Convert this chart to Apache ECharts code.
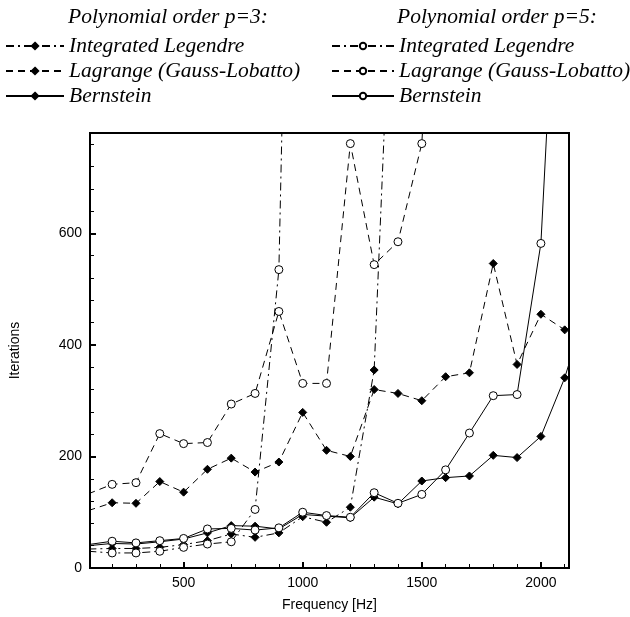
<!DOCTYPE html>
<html>
<head>
<meta charset="utf-8">
<script src="https://cdn.jsdelivr.net/npm/echarts@6/dist/echarts.min.js"></script>
<style>
html,body{margin:0;padding:0;background:#fff;}
#c{width:630px;height:617px;}
</style>
</head>
<body>
<div id="c"></div>
<script>
// ---- data ----
var freq = [100,200,300,400,500,600,700,800,900,1000,1100,1200,1300,1400,1500,1600,1700,1800,1900,2000,2100,2200];
var legendreP3  = [34,35,35,37,42,49,61,55,63,92,82,109,355,1370,null,null,null,null,null,null,null,null];
var lagrangeP3  = [103,117,116,155,136,177,197,172,190,279,211,200,320,313,300,343,350,546,365,455,427,445];
var bernsteinP3 = [40,44,43,47,52,63,76,75,70,96,93,90,127,115,156,162,165,202,198,236,341,480];
var legendreP5  = [30,27,27,30,37,43,47,105,535,2500,null,null,null,null,null,null,null,null,null,null,null,null];
var lagrangeP5  = [133,150,153,241,223,225,294,313,460,331,331,761,544,585,761,1500,null,null,null,null,null,null];
var bernsteinP5 = [42,48,45,49,53,70,71,68,72,100,94,91,135,116,132,176,242,309,311,582,1400,null];

var xMajorTicks = [500,1000,1500,2000];
var xMinorTicks = [200,300,400,600,700,800,900,1100,1200,1300,1400,1600,1700,1800,1900,2100];
var yMajorTicks = [0,200,400,600];
var yMinorTicks = [40,80,120,160,240,280,320,360,440,480,520,560,640,680,720,760];

var headers = ['Polynomial order p=3:', 'Polynomial order p=5:'];
var seriesNames = [
  'Integrated Legendre', 'Lagrange (Gauss-Lobatto)', 'Bernstein',
  'Integrated Legendre ', 'Lagrange (Gauss-Lobatto) ', 'Bernstein '
];

function pairs(arr){ var out=[]; for(var i=0;i<freq.length;i++){ out.push([freq[i], arr[i]]);} return out; }

var DASH = [7,5];
var DASHDOT = [8,4,2,4];

function mk(name, arr, dash, open){
  return {
    name: name, type: 'line', data: pairs(arr),
    xAxisIndex: 0, yAxisIndex: 0,
    symbol: open ? 'circle' : 'diamond',
    symbolSize: 8,
    showAllSymbol: true,
    connectNulls: false,
    clip: true,
    lineStyle: {color:'#000', width: 1, type: dash},
    itemStyle: {color: open ? '#fff' : '#000', borderColor:'#000', borderWidth: 1},
    emphasis: {disabled: true},
    animation: false,
    z: open ? 4 : 3
  };
}

var axisFont = {fontFamily:'Liberation Sans, Arial, sans-serif', fontSize:14, color:'#000'};
var legFont = {fontFamily:'Liberation Serif, Times New Roman, serif', fontStyle:'italic', fontSize:21.5, color:'#000'};
var headFont = 'italic 21.5px "Liberation Serif", serif';

var XMIN = 107, XMAX = 2118, YMIN = 0, YMAX = 780;

var option = {
  animation: false,
  backgroundColor: '#fff',
  grid: {left: 89, right: 61, top: 133, bottom: 48, show: true, borderColor:'#000', borderWidth: 2, backgroundColor:'transparent'},
  graphic: [
    {type:'text', left: 68, top: 6, style:{text: headers[0], font: headFont, fill:'#000'}},
    {type:'text', left: 397, top: 6, style:{text: headers[1], font: headFont, fill:'#000'}}
  ],
  legend: [
    {data: seriesNames.slice(0,3), orient:'vertical', left: 0, top: 30, itemWidth: 58, itemHeight: 8, itemGap: 3,
     textStyle: legFont, selectedMode:false},
    {data: seriesNames.slice(3,6), orient:'vertical', left: 326, top: 30, itemWidth: 62, itemHeight: 8, itemGap: 3,
     textStyle: legFont, selectedMode:false}
  ],
  xAxis: [
    {type:'value', min: XMIN, max: XMAX, position:'bottom',
     name:'Frequency [Hz]', nameLocation:'middle', nameGap: 30, nameTextStyle: axisFont,
     axisLine:{show:true, lineStyle:{color:'#000', width:2}},
     axisTick:{show:true, inside:true, length:6, lineStyle:{color:'#000', width:2}, customValues: xMajorTicks},
     axisLabel:{show:true, customValues: xMajorTicks, margin: 8, formatter: function(v){return String(v);},
       fontFamily: axisFont.fontFamily, fontSize: axisFont.fontSize, color: axisFont.color},
     splitLine:{show:false}},
    {type:'value', min: XMIN, max: XMAX, position:'bottom', gridIndex:0,
     axisLine:{show:false},
     axisTick:{show:true, inside:true, length:4, lineStyle:{color:'#000', width:1}, customValues: xMinorTicks},
     axisLabel:{show:false}, splitLine:{show:false}}
  ],
  yAxis: [
    {type:'value', min: YMIN, max: YMAX, position:'left',
     name:'Iterations', nameLocation:'middle', nameGap: 68, nameRotate: 90, nameTextStyle: axisFont,
     axisLine:{show:true, lineStyle:{color:'#000', width:2}},
     axisTick:{show:true, inside:true, length:6, lineStyle:{color:'#000', width:2}, customValues: yMajorTicks},
     axisLabel:{show:true, customValues: yMajorTicks, margin: 8, formatter: function(v){return String(v);},
       fontFamily: axisFont.fontFamily, fontSize: axisFont.fontSize, color: axisFont.color},
     splitLine:{show:false}},
    {type:'value', min: YMIN, max: YMAX, position:'left', gridIndex:0,
     axisLine:{show:false},
     axisTick:{show:true, inside:true, length:4, lineStyle:{color:'#000', width:1}, customValues: yMinorTicks},
     axisLabel:{show:false}, splitLine:{show:false}}
  ],
  series: [
    mk(seriesNames[0], legendreP3, DASHDOT, false),
    mk(seriesNames[1], lagrangeP3, DASH, false),
    mk(seriesNames[2], bernsteinP3, 'solid', false),
    mk(seriesNames[3], legendreP5, DASHDOT, true),
    mk(seriesNames[4], lagrangeP5, DASH, true),
    mk(seriesNames[5], bernsteinP5, 'solid', true)
  ]
};

var chart = echarts.init(document.getElementById('c'), null, {renderer:'canvas'});
chart.setOption(option);
</script>
</body>
</html>
